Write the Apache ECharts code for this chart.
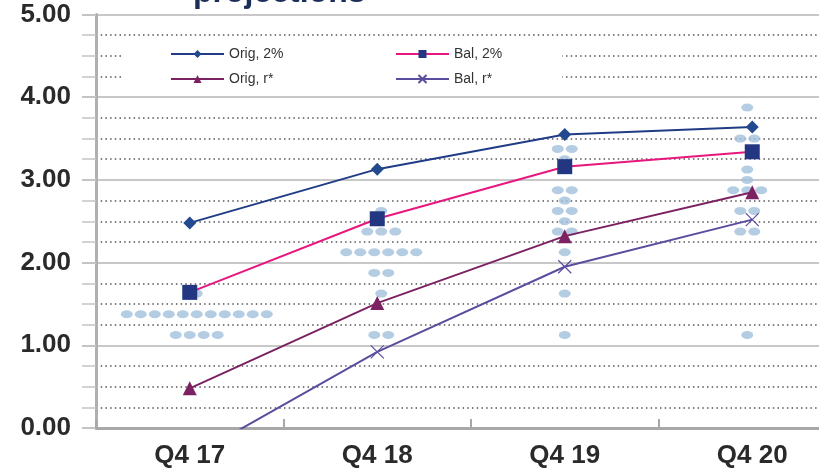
<!DOCTYPE html>
<html>
<head>
<meta charset="utf-8">
<script src="https://cdn.jsdelivr.net/npm/echarts@6/dist/echarts.min.js"></script>
<style>
  html, body { margin: 0; padding: 0; background: #ffffff; }
  #chart { width: 819px; height: 476px; }
</style>
</head>
<body>
<div id="chart"></div>
<script>
// Categories and tick values
const quarters = ['Q4 17', 'Q4 18', 'Q4 19', 'Q4 20'];
const yTicks = [0, 1, 2, 3, 4, 5];

// Policy-rate paths
const origTwo   = [2.48, 3.13, 3.55, 3.64];
const balTwo    = [1.64, 2.53, 3.16, 3.34];
const origRStar = [0.48, 1.51, 2.32, 2.85];
const balRStar  = [-0.36, 0.92, 1.95, 2.52];

// Participant dots per quarter: [rate, number of dots at that rate]
const dotsQ417 = [[1.625, 1], [1.375, 11], [1.125, 4]];
const dotsQ418 = [[2.625, 1], [2.375, 3], [2.125, 6], [1.875, 2], [1.625, 1], [1.125, 2]];
const dotsQ419 = [[3.375, 2], [3.25, 1], [2.875, 2], [2.75, 1], [2.625, 2], [2.5, 1],
                  [2.375, 2], [2.125, 1], [1.625, 1], [1.125, 1]];
const dotsQ420 = [[3.875, 1], [3.5, 2], [3.125, 1], [3.0, 1], [2.875, 3], [2.625, 2],
                  [2.375, 2], [1.125, 1]];

// Layout of the dot clusters (pixels)
const DOT_STEP = 14;
const dotShift = [7, 4, 0, -5];

const FONT = '"Liberation Sans", Arial, Helvetica, sans-serif';

function buildDots() {
  const out = [];
  [dotsQ417, dotsQ418, dotsQ419, dotsQ420].forEach((rows, qi) => {
    rows.forEach(([rate, n]) => {
      for (let k = 0; k < n; k++) {
        out.push({
          value: [qi, rate],
          symbolOffset: [dotShift[qi] + (k - (n - 1) / 2) * DOT_STEP, 0]
        });
      }
    });
  });
  return out;
}

const chart = echarts.init(document.getElementById('chart'), null, { renderer: 'canvas' });

const legendText = { fontFamily: FONT, fontSize: 14, color: '#333333' };

chart.setOption({
  animation: false,
  backgroundColor: '#ffffff',
  title: {
    text: 'projections',
    left: 193,
    top: -23,
    padding: 0,
    textStyle: { fontFamily: FONT, fontSize: 32, fontWeight: 'bold', color: '#1d2d5a' }
  },
  // plot area runs past the right edge of the canvas
  grid: { left: 96, width: 750, top: 14.5, bottom: 48, containLabel: false, outerBoundsMode: 'none' },
  legend: [
    {
      data: ['Orig, 2%', 'Orig, r*'],
      orient: 'vertical',
      left: 121,
      top: 39,
      padding: [8, 40, 5, 49],
      itemGap: 11,
      itemWidth: 53,
      itemHeight: 10,
      backgroundColor: '#ffffff',
      textStyle: legendText
    },
    {
      data: ['Bal, 2%', 'Bal, r*'],
      orient: 'vertical',
      left: 300,
      top: 39,
      padding: [8, 60, 5, 95],
      itemGap: 11,
      itemWidth: 53,
      itemHeight: 10,
      backgroundColor: '#ffffff',
      textStyle: legendText
    }
  ],
  xAxis: {
    type: 'category',
    data: quarters,
    boundaryGap: true,
    axisLine: { show: true, lineStyle: { color: '#a8a8a8', width: 3 } },
    axisTick: { show: true, inside: true, length: 9, lineStyle: { color: '#a8a8a8', width: 2 } },
    axisLabel: {
      margin: 15,
      fontFamily: FONT, fontSize: 26, fontWeight: 'bold', color: '#2a2a2a'
    },
    splitLine: { show: false }
  },
  yAxis: {
    type: 'value',
    min: yTicks[0],
    max: yTicks[yTicks.length - 1],
    interval: 1,
    axisLine: { show: true, lineStyle: { color: '#b0b0b0', width: 3 } },
    axisTick: { show: true, inside: false, length: 14, lineStyle: { color: '#c4c4c4', width: 2 } },
    minorTick: { show: true, splitNumber: 4, length: 14, lineStyle: { color: '#c4c4c4', width: 1.5 } },
    axisLabel: {
      margin: 25,
      formatter: v => v.toFixed(2),
      fontFamily: FONT, fontSize: 26, fontWeight: 'bold', color: '#2a2a2a'
    },
    splitLine: { show: true, lineStyle: { color: '#c8c8c8', width: 2 } },
    minorSplitLine: { show: true, lineStyle: { color: '#555555', width: 1.5, type: [1.5, 3.2] } }
  },
  series: [
    {
      name: 'dots',
      type: 'scatter',
      z: 1,
      symbol: 'circle',
      symbolSize: [12, 8],
      itemStyle: { color: '#a2c0dc' },
      data: buildDots(),
      silent: true
    },
    {
      name: 'Orig, 2%',
      type: 'line',
      z: 3,
      data: origTwo,
      symbol: 'diamond',
      symbolSize: 13,
      lineStyle: { color: '#1f3c85', width: 2 },
      itemStyle: { color: '#23498f' }
    },
    {
      name: 'Bal, 2%',
      type: 'line',
      z: 3,
      data: balTwo,
      symbol: 'rect',
      symbolSize: 15,
      lineStyle: { color: '#e8177f', width: 2 },
      itemStyle: { color: '#223682' }
    },
    {
      name: 'Orig, r*',
      type: 'line',
      z: 3,
      data: origRStar,
      symbol: 'triangle',
      symbolSize: 14,
      lineStyle: { color: '#7c2262', width: 2 },
      itemStyle: { color: '#7c2262' }
    },
    {
      name: 'Bal, r*',
      type: 'line',
      z: 3,
      data: balRStar,
      symbol: 'path://M0,0L10,10M10,0L0,10',
      symbolSize: 13,
      lineStyle: { color: '#5c4c9e', width: 2 },
      itemStyle: { color: 'none', borderColor: '#5c4c9e', borderWidth: 1.2 }
    }
  ]
});
</script>
</body>
</html>
